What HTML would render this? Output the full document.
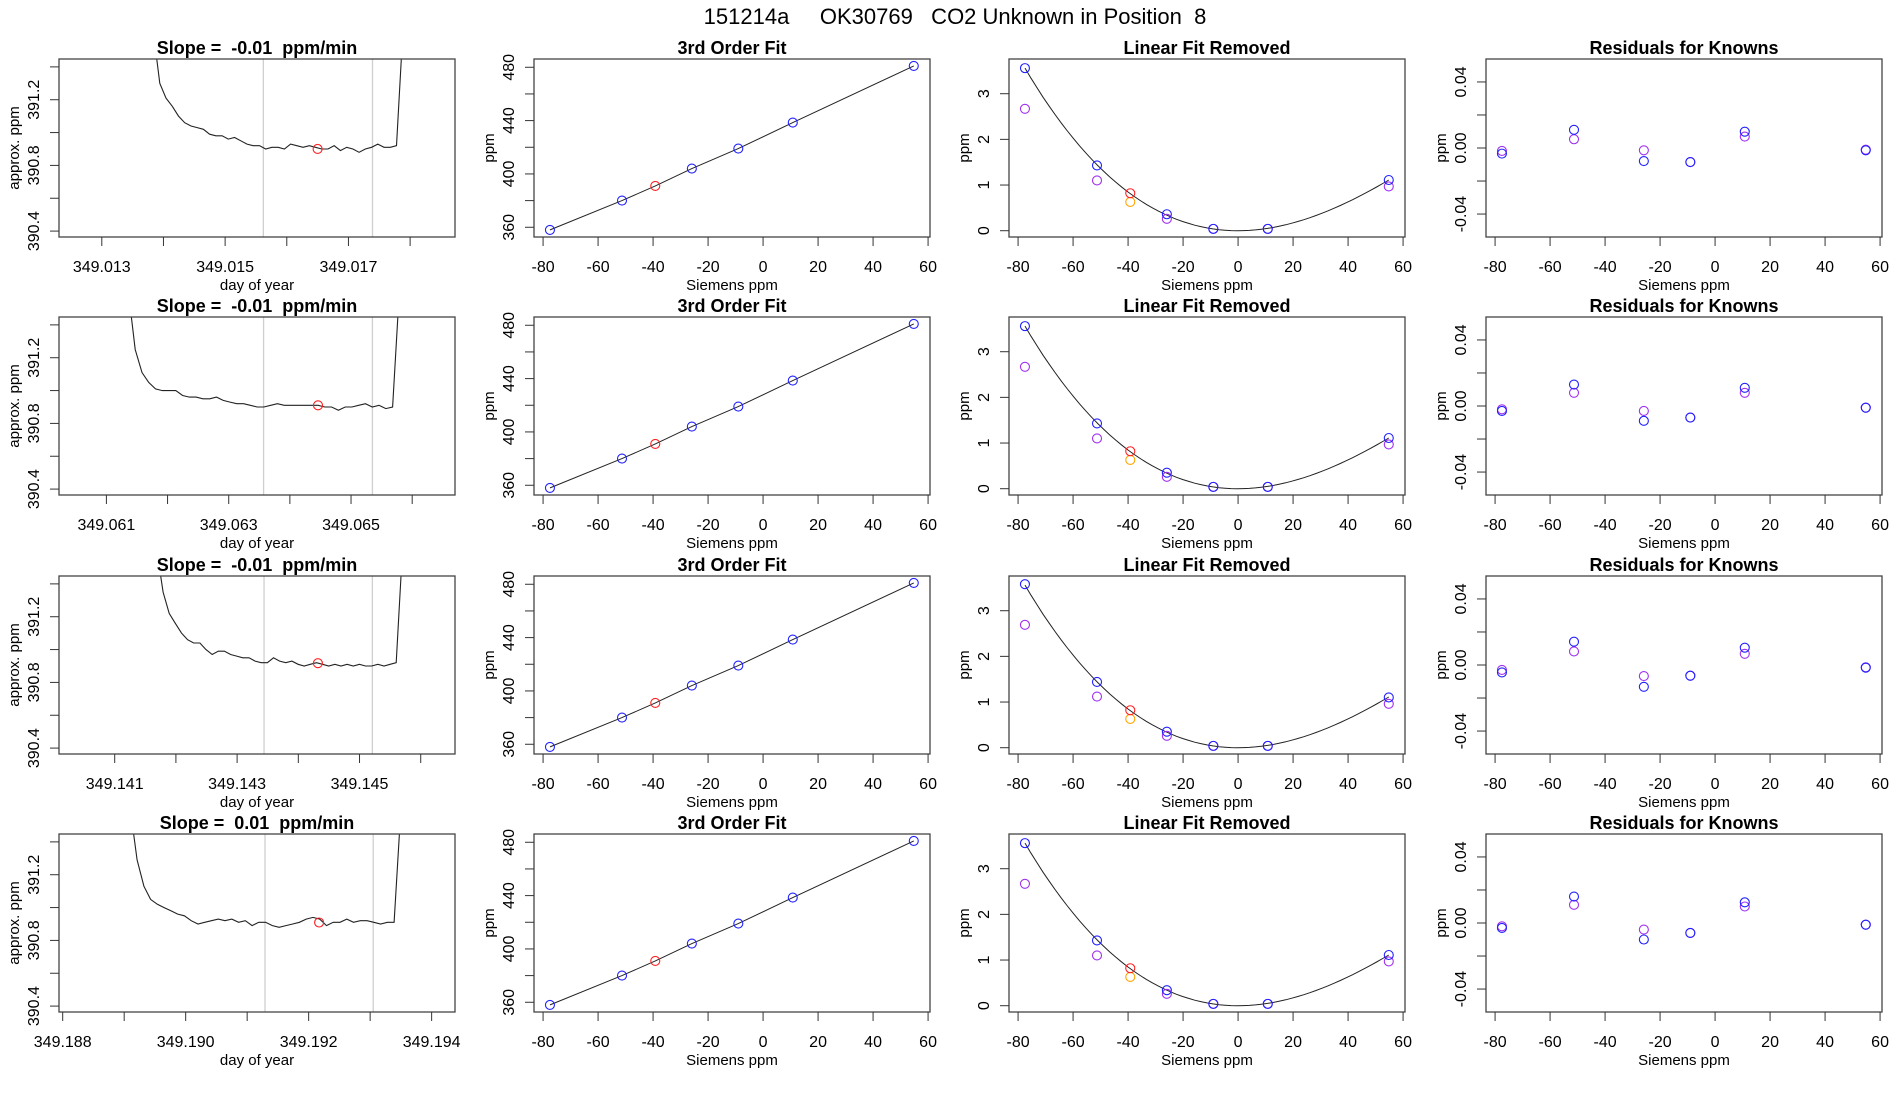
<!DOCTYPE html>
<html><head><meta charset="utf-8"><style>
html,body{margin:0;padding:0;background:#fff;}
svg{display:block;font-family:"Liberation Sans",sans-serif;}
text{white-space:pre;}
</style></head><body>
<svg id="chart" width="1900" height="1100" viewBox="0 0 1900 1100"></svg>
<script>
// ---------- data ----------
const tsStart = [349.01384, 349.06136, 349.14169, 349.1891];
const tsEnd = [349.01788, 349.06579, 349.14570, 349.1935];
const tsVals1 = [391.6,391.30,391.21,391.16,391.10,391.06,391.04,391.03,391.02,390.99,390.98,390.98,390.96,390.97,390.95,390.93,390.92,390.92,390.90,390.91,390.91,390.90,390.93,390.92,390.91,390.92,390.91,390.90,390.90,390.92,390.89,390.91,390.90,390.88,390.90,390.91,390.93,390.91,390.91,390.92,391.6];
const tsVals2 = [391.6,391.25,391.11,391.05,391.01,391.00,391.00,391.00,390.97,390.96,390.96,390.95,390.95,390.96,390.94,390.93,390.92,390.92,390.91,390.90,390.90,390.91,390.92,390.91,390.91,390.91,390.91,390.91,390.91,390.90,390.90,390.88,390.90,390.90,390.91,390.92,390.90,390.91,390.89,390.90,391.6];
const tsVals3 = [391.6,391.35,391.22,391.16,391.10,391.06,391.04,391.04,391.00,390.97,390.99,390.99,390.97,390.96,390.95,390.95,390.93,390.92,390.92,390.95,390.93,390.92,390.93,390.91,390.90,390.91,390.92,390.91,390.90,390.91,390.90,390.91,390.90,390.91,390.90,390.90,390.91,390.90,390.91,390.92,391.6];
const tsVals4 = [391.6,391.29,391.13,391.05,391.02,391.00,390.98,390.96,390.95,390.92,390.90,390.91,390.92,390.93,390.92,390.93,390.91,390.92,390.89,390.91,390.91,390.89,390.88,390.89,390.90,390.91,390.93,390.94,390.93,390.89,390.91,390.91,390.93,390.91,390.92,390.92,390.91,390.90,390.91,390.91,391.6];
const tsRedT = [349.0165, 349.06446, 349.14432, 349.19217];
const tsRedV = [390.90, 390.91, 390.917, 390.909];
const tsGrayA = [349.01562, 349.06357, 349.14344, 349.19129];
const tsGrayB = [349.01739, 349.06535, 349.14521, 349.19305];
const tsXMin = [349.012306, 349.060225, 349.14009, 349.18794];
const tsXMax = [349.018728, 349.0667, 349.14656, 349.19438];
const tsTicks1 = [349.013,349.014,349.015,349.016,349.017,349.018];
const tsTicks2 = [349.061,349.062,349.063,349.064,349.065,349.066];
const tsTicks3 = [349.141,349.142,349.143,349.144,349.145,349.146];
const tsTicks4 = [349.188,349.189,349.190,349.191,349.192,349.193,349.194];
const tsLabels1 = ["349.013","349.015","349.017"];
const tsLabels2 = ["349.061","349.063","349.065"];
const tsLabels3 = ["349.141","349.143","349.145"];
const tsLabels4 = ["349.188","349.190","349.192","349.194"];
const slopeTitles = ["Slope =  -0.01  ppm/min","Slope =  -0.01  ppm/min","Slope =  -0.01  ppm/min","Slope =  0.01  ppm/min"];
const tsYTicks = [390.4,390.6,390.8,391.0,391.2,391.4];
const tsYLabels = ["390.4","390.8","391.2"];

const siemensX = [-77.5,-51.3,-25.9,-9,10.8,54.8];
const knownPpm = [358,380,404,419,438.5,481];
const unknownX = -39.2;
const unknownPpm = 391;
const siemensTicks = [-80,-60,-40,-20,0,20,40,60];
const fitYTicks = [360,380,400,420,440,460,480];
const fitYLabels = ["360","400","440","480"];

const lfrBlue1 = [3.56,1.43,0.36,0.04,0.04,1.11];
const lfrBlue2 = [3.56,1.43,0.35,0.04,0.04,1.11];
const lfrBlue3 = [3.58,1.44,0.35,0.04,0.04,1.10];
const lfrBlue4 = [3.56,1.43,0.34,0.04,0.04,1.11];
const lfrPurple1 = [2.67,1.10,0.26,0.04,0.04,0.97];
const lfrPurple2 = [2.67,1.10,0.26,0.04,0.04,0.97];
const lfrPurple3 = [2.69,1.12,0.26,0.04,0.04,0.96];
const lfrPurple4 = [2.67,1.10,0.26,0.04,0.04,0.97];
const lfrUnknownRed = [0.82,0.82,0.82,0.82];
const lfrUnknownOrange = [0.63,0.63,0.63,0.63];
const cubicCoef = [0,0,0.000462,-0.000001686];
const lfrYTicks = [0,1,2,3];

const resBlue1 = [-0.0034,0.011,-0.0079,-0.0085,0.0099,-0.0014];
const resBlue2 = [-0.003,0.013,-0.009,-0.007,0.011,-0.001];
const resBlue3 = [-0.0045,0.0141,-0.0132,-0.0065,0.0105,-0.0016];
const resBlue4 = [-0.003,0.016,-0.010,-0.006,0.0125,-0.001];
const resPurple1 = [-0.0018,0.0053,-0.0014,-0.0085,0.0069,-0.001];
const resPurple2 = [-0.002,0.008,-0.003,-0.007,0.008,-0.001];
const resPurple3 = [-0.003,0.0082,-0.0067,-0.0065,0.0068,-0.0014];
const resPurple4 = [-0.002,0.011,-0.004,-0.006,0.010,-0.001];
const resYTicks = [-0.04,-0.02,0,0.02,0.04];
const resYLabels = ["-0.04","0.00","0.04"];

// ---------- layout ----------
const NS = "http://www.w3.org/2000/svg";
const svg = document.getElementById("chart");
const colLeft = [59,534,1009,1486];
const rowTop = [59,317,576,834];
const PW = 396, PH = 178;
const sieMin = -83.3, sieMax = 60.7;

function mk(tag, attrs, parent, name) {
  const el = document.createElementNS(NS, tag);
  for (const k in attrs) el.setAttribute(k, attrs[k]);
  
  
  (parent || svg).appendChild(el);
  return el;
}
function txt(str, x, y, size, parent, name, extra) {
  const a = Object.assign({x:x, y:y, "font-size":size, "text-anchor":"middle", fill:"#000"}, extra || {});
  const t = mk("text", a, parent, name);
  t.textContent = str;
  return t;
}
function scales(c, r, xmin, xmax, ymin, ymax) {
  const x0 = colLeft[c], y0 = rowTop[r];
  return {
    x0, y0,
    sx: v => x0 + (v - xmin) / (xmax - xmin) * PW,
    sy: v => y0 + PH - (v - ymin) / (ymax - ymin) * PH
  };
}
function frame(g, S, title, xlabel, ylabel, xticks, xlabels, xlabVals, yticks, ylabels, ylabVals) {
  mk("rect", {x:S.x0, y:S.y0, width:PW, height:PH, fill:"none", stroke:"#444", "stroke-width":1.3}, g, "plot-frame");
  txt(title, S.x0 + PW/2, S.y0 - 5, 18, g, "panel-title", {"font-weight":"bold"});
  const by = S.y0 + PH;
  xticks.forEach(v => {
    const x = S.sx(v);
    mk("line", {x1:x, y1:by, x2:x, y2:by+9, stroke:"#333", "stroke-width":1}, g, "x-tick");
  });
  xlabVals.forEach((v,i) => txt(xlabels[i], S.sx(v), by + 35, 16, g, "x-tick-label"));
  txt(xlabel, S.x0 + PW/2, by + 53, 15, g, "x-axis-title");
  yticks.forEach(v => {
    const y = S.sy(v);
    mk("line", {x1:S.x0, y1:y, x2:S.x0-9, y2:y, stroke:"#333", "stroke-width":1}, g, "y-tick");
  });
  ylabVals.forEach((v,i) => {
    const y = S.sy(v), x = S.x0 - 20;
    txt(ylabels[i], x, y, 16, g, "y-tick-label", {transform:"rotate(-90 " + x + " " + y + ")"});
  });
  const yx = S.x0 - 40, yy = S.y0 + PH/2;
  txt(ylabel, yx, yy, 15, g, "y-axis-title", {transform:"rotate(-90 " + yx + " " + yy + ")"});
}
function circ(g, x, y, color, name) {
  mk("circle", {cx:x, cy:y, r:4.5, fill:"none", stroke:color, "stroke-width":1.1}, g, name);
}

// main title
txt("151214a     OK30769   CO2 Unknown in Position  8", 955, 24, 22, svg, "figure-title");

const tsVals = [tsVals1, tsVals2, tsVals3, tsVals4];
const tsTicks = [tsTicks1, tsTicks2, tsTicks3, tsTicks4];
const tsLabels = [tsLabels1, tsLabels2, tsLabels3, tsLabels4];
const lfrBlue = [lfrBlue1, lfrBlue2, lfrBlue3, lfrBlue4];
const lfrPurple = [lfrPurple1, lfrPurple2, lfrPurple3, lfrPurple4];
const resBlue = [resBlue1, resBlue2, resBlue3, resBlue4];
const resPurple = [resPurple1, resPurple2, resPurple3, resPurple4];

const defs = mk("defs", {}, svg, "clip-defs");

for (let r = 0; r < 4; r++) {
  // ---- panel 1: time series ----
  const g1 = mk("g", {}, svg, "timeseries-panel-" + (r+1));
  const S1 = scales(0, r, tsXMin[r], tsXMax[r], 390.364, 391.448);
  const cp = mk("clipPath", {id:"clip" + r}, defs, "clip-path");
  mk("rect", {x:S1.x0, y:S1.y0, width:PW, height:PH}, cp, "clip-rect");
  [tsGrayA[r], tsGrayB[r]].forEach(t => {
    const x = S1.sx(t);
    mk("line", {x1:x, y1:S1.y0, x2:x, y2:S1.y0+PH, stroke:"#cfcfcf", "stroke-width":1.3}, g1, "window-marker-line");
  });
  const vals = tsVals[r];
  const n = vals.length;
  const pts = vals.map((v,i) => {
    const t = tsStart[r] + (tsEnd[r] - tsStart[r]) * i / (n - 1);
    return S1.sx(t).toFixed(1) + "," + S1.sy(v).toFixed(1);
  }).join(" ");
  mk("polyline", {points:pts, fill:"none", stroke:"#222", "stroke-width":1.1, "clip-path":"url(#clip" + r + ")"}, g1, "concentration-trace");
  circ(g1, S1.sx(tsRedT[r]), S1.sy(tsRedV[r]), "#ff2020", "mean-point");
  const labVals = tsLabels[r].map(s => parseFloat(s));
  frame(g1, S1, slopeTitles[r], "day of year", "approx. ppm", tsTicks[r], tsLabels[r], labVals, tsYTicks, tsYLabels, [390.4,390.8,391.2]);

  // ---- panel 2: 3rd order fit ----
  const g2 = mk("g", {}, svg, "third-order-fit-panel-" + (r+1));
  const S2 = scales(1, r, sieMin, sieMax, 352.7, 486.2);
  const allX = siemensX.concat([unknownX]);
  const allY = knownPpm.concat([unknownPpm]);
  const order = allX.map((v,i) => i).sort((a,b) => allX[a] - allX[b]);
  const fitPts = order.map(i => S2.sx(allX[i]).toFixed(1) + "," + S2.sy(allY[i]).toFixed(1)).join(" ");
  mk("polyline", {points:fitPts, fill:"none", stroke:"#222", "stroke-width":1}, g2, "fit-line");
  siemensX.forEach((x,i) => circ(g2, S2.sx(x), S2.sy(knownPpm[i]), "#2020ff", "known-standard-point"));
  circ(g2, S2.sx(unknownX), S2.sy(unknownPpm), "#ff2020", "unknown-point");
  frame(g2, S2, "3rd Order Fit", "Siemens ppm", "ppm", siemensTicks, siemensTicks.map(String), siemensTicks, fitYTicks, fitYLabels, [360,400,440,480]);

  // ---- panel 3: linear fit removed ----
  const g3 = mk("g", {}, svg, "linear-fit-removed-panel-" + (r+1));
  const S3 = scales(2, r, sieMin, sieMax, -0.138, 3.76);
  const curve = [];
  for (let k = 0; k <= 60; k++) {
    const x = siemensX[0] + (siemensX[5] - siemensX[0]) * k / 60;
    const y = cubicCoef[0] + cubicCoef[1]*x + cubicCoef[2]*x*x + cubicCoef[3]*x*x*x;
    curve.push(S3.sx(x).toFixed(1) + "," + S3.sy(y).toFixed(1));
  }
  mk("polyline", {points:curve.join(" "), fill:"none", stroke:"#222", "stroke-width":1}, g3, "cubic-curve");
  siemensX.forEach((x,i) => circ(g3, S3.sx(x), S3.sy(lfrPurple[r][i]), "#a030f0", "purple-point"));
  siemensX.forEach((x,i) => circ(g3, S3.sx(x), S3.sy(lfrBlue[r][i]), "#2020ff", "blue-point"));
  circ(g3, S3.sx(unknownX), S3.sy(lfrUnknownOrange[r]), "#ffa500", "unknown-orange-point");
  circ(g3, S3.sx(unknownX), S3.sy(lfrUnknownRed[r]), "#ff2020", "unknown-red-point");
  frame(g3, S3, "Linear Fit Removed", "Siemens ppm", "ppm", siemensTicks, siemensTicks.map(String), siemensTicks, lfrYTicks, lfrYTicks.map(String), lfrYTicks);

  // ---- panel 4: residuals ----
  const g4 = mk("g", {}, svg, "residuals-panel-" + (r+1));
  const S4 = scales(3, r, sieMin, sieMax, -0.0539, 0.0539);
  siemensX.forEach((x,i) => circ(g4, S4.sx(x), S4.sy(resPurple[r][i]), "#a030f0", "residual-purple-point"));
  siemensX.forEach((x,i) => circ(g4, S4.sx(x), S4.sy(resBlue[r][i]), "#2020ff", "residual-blue-point"));
  frame(g4, S4, "Residuals for Knowns", "Siemens ppm", "ppm", siemensTicks, siemensTicks.map(String), siemensTicks, resYTicks, resYLabels, [-0.04,0,0.04]);
}
</script>
</body></html>
